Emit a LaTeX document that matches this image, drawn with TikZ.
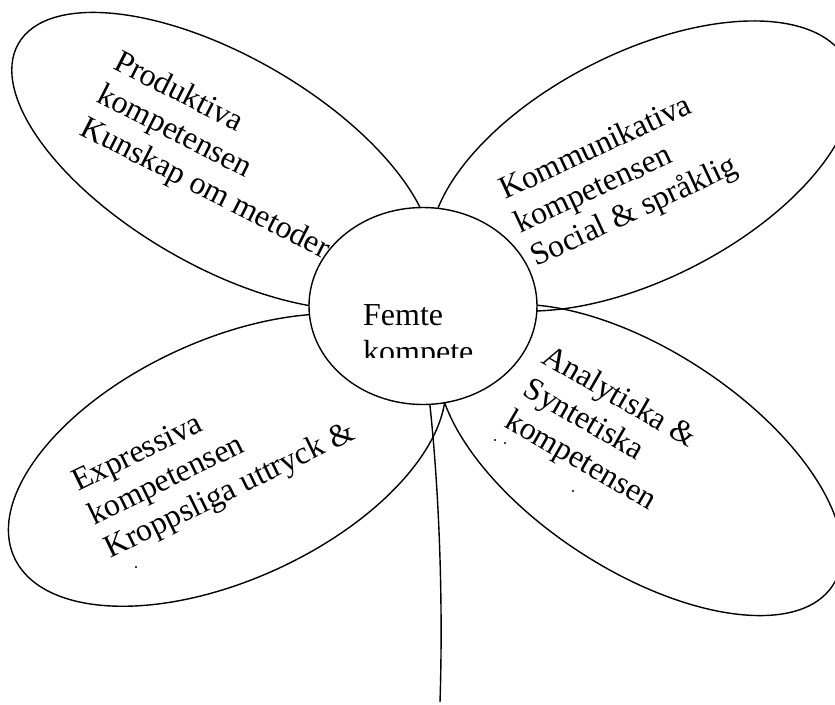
\documentclass[tikz,border=0pt]{standalone}
\usepackage{fontspec}
\setmainfont{Liberation Serif}
\usetikzlibrary{shapes.geometric}

\tikzset{
  petal/.style={line width=1.4pt},
  petaltext/.style={anchor=base west, inner sep=0pt, font=\fontsize{32}{37}\selectfont},
  heart/.style={ellipse, draw, line width=1.4pt, fill=white,
    minimum width=228pt, minimum height=197pt, inner sep=0pt},
}

\begin{document}
\begin{tikzpicture}[x=1pt, y=-1pt]
  \useasboundingbox (0,0) rectangle (835,704);

  % the four petals
  \foreach \cx/\cy/\rx/\ry/\ang in {222/161/235/105/-30, 642/166/230/113/27,
                                  227/460/234/120/24.6, 640/460/230/110/-33}
    \draw[petal, rotate around={\ang:(\cx,\cy)}] (\cx,\cy) ellipse [x radius=\rx, y radius=\ry];

  % petal texts
  \begin{scope}[shift={(112,68)}, rotate=-27, transform shape]
    \foreach \txt [count=\i from 0] in {Produktiva, kompetensen, Kunskap om metoder}
      \node[petaltext] (prod\i) at (0,37*\i) {\txt};
  \end{scope}
  \begin{scope}[shift={(505,200)}, rotate=25, transform shape]
    \foreach \txt [count=\i from 0] in {Kommunikativa, kompetensen, Social \& språklig}
      \node[petaltext] (komm\i) at (0,37*\i) {\txt};
  \end{scope}
  \begin{scope}[shift={(78,492)}, rotate=26, transform shape]
    \foreach \txt [count=\i from 0] in {Expressiva, kompetensen, Kroppsliga uttryck \&}
      \node[petaltext] (expr\i) at (0,37*\i) {\txt};
  \end{scope}
  \begin{scope}[shift={(540,362)}, rotate=-30, transform shape]
    \foreach \txt [count=\i from 0] in {Analytiska \&, Syntetiska, kompetensen}
      \node[petaltext] (anal\i) at (0,37*\i) {\txt};
  \end{scope}

  % cut-off remains of hidden lines
  \fill (136,567) circle (1.2);
  \fill (495,440) circle (1.1);
  \fill (505,443) circle (1.1);
  \fill (573,491) circle (1.1);

  % centre of the flower
  \node[heart] (centre) at (423,306) {};
  \begin{scope}
    \clip (350,280) rectangle (490,357.5);
    \node[petaltext] (femte) at (363,325) {Femte};
    \node[petaltext] (kompete) at (363,362) {kompete};
  \end{scope}

  % stem
  \coordinate (stemend) at (440,702);
  \draw[petal] (centre.-86) .. controls (440,500) and (443,610) .. (stemend);
\end{tikzpicture}
\end{document}
